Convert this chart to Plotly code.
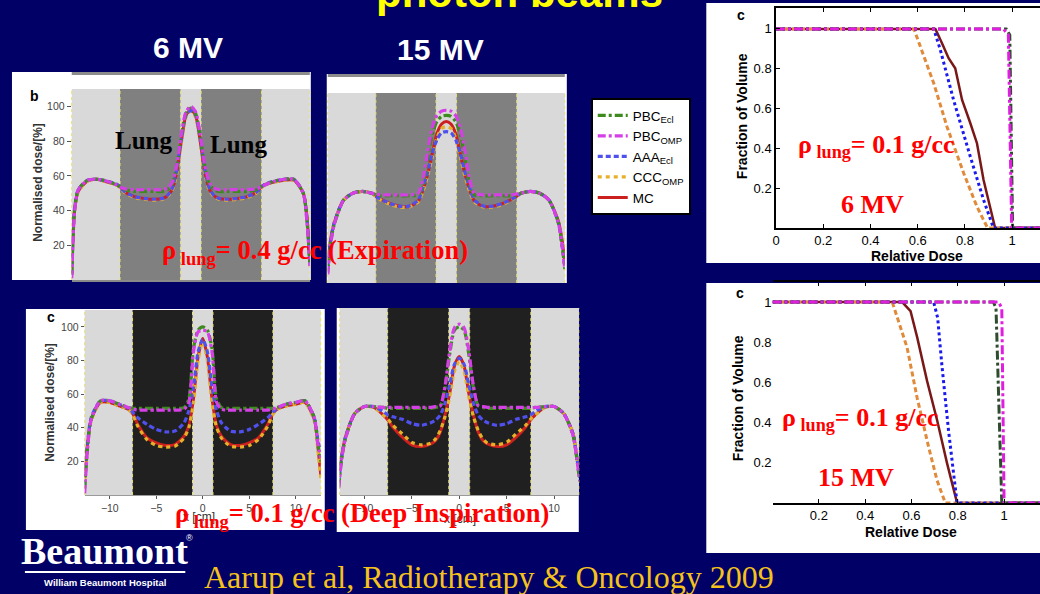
import plotly.graph_objects as go

W, H = 1040, 594
BG = "#000066"

# ---------------- data ----------------
X_PROF = [-12.7, -12.4, -12, -11, -10, -9, -8, -7.5, -7, -6, -5, -4, -3, -2.5, -2, -1.5, -1, -0.5, 0,
          0.5, 1, 1.5, 2, 2.5, 3, 4, 5, 6, 7, 7.5, 8, 9, 10, 11, 12, 12.4, 12.7]

# 6 MV, rho_lung = 0.4 g/cc
MC_6_04 = [4, 40, 51, 57, 58, 56.5, 55, 53.5, 50.5, 48, 47, 46.5, 47, 48.5, 52, 62, 80, 95, 98, 95, 80, 62, 52, 48.5, 47, 46.5, 47, 48, 50.5, 53.5, 55, 56.5, 57.5, 57.5, 50, 36, 11]
CCC_6_04 = [3, 40, 51, 57, 58, 56.5, 55, 53, 50, 47.5, 46.5, 46, 46.5, 48, 51.5, 61, 79, 94, 97.5, 94, 79, 61, 51.5, 48, 46.5, 46, 46.5, 47.5, 50, 53, 55, 56.5, 57.5, 57.5, 50, 35, 10]
AAA_6_04 = [3, 41, 52, 57.5, 58, 57, 55.5, 53.5, 50.5, 48, 47, 46.5, 47, 48.5, 52.5, 63, 81, 95, 97.5, 95, 81, 63, 52.5, 48.5, 47, 46.5, 47, 48, 50.5, 53.5, 55.5, 57, 58, 58, 50, 35, 10]
PBCE_6_04 = [3, 40, 52, 57.5, 58, 57, 55, 53.5, 52, 51, 51, 51, 51, 52, 55, 65, 83, 96, 99, 96, 83, 65, 55, 52, 51, 51, 51, 51, 52, 53.5, 55, 57, 58, 58, 50, 34, 9]
PBCO_6_04 = [1, 39, 52, 57.5, 58, 57, 55, 53.5, 52.5, 52, 52, 52, 52, 53, 56, 66, 84, 97, 100, 97, 84, 66, 56, 53, 52, 52, 52, 52, 52.5, 53.5, 55, 57, 58, 58, 50, 33, 8]

# 15 MV, rho_lung = 0.4 g/cc
MC_15_04 = [13, 25, 35, 48, 52, 53, 52, 50, 48.4, 46, 44.5, 44.2, 47.5, 54, 63, 75, 86.5, 92, 93.5, 92, 86.5, 75, 63, 54, 47.5, 44.2, 44.5, 46, 48.4, 50, 52, 53, 52, 48, 36, 25, 13]
CCC_15_04 = [12, 25, 35, 48, 52, 53, 52, 50, 48, 45.5, 44, 44, 47, 53, 62, 73, 84, 89.5, 90.5, 89.5, 84, 73, 62, 53, 47, 44, 44, 45.5, 48, 50, 52, 53, 52, 48, 36, 24, 12]
AAA_15_04 = [10, 24, 35, 48, 52, 53, 52, 50, 48.5, 46, 44.5, 44.5, 48, 55, 64, 75, 83, 87, 87.6, 87, 83, 75, 64, 55, 48, 44.5, 44.5, 46, 48.5, 50, 52, 53, 52, 48, 35, 22, 10]
PBCE_15_04 = [6, 23, 34, 48, 52, 53, 52, 51, 50.5, 50.5, 50.5, 50.5, 51, 57, 72, 86, 93.5, 96.5, 97, 96.5, 93.5, 86, 72, 57, 51, 50.5, 50.5, 50.5, 50.5, 51, 52, 53, 52, 48, 35, 22, 8]
PBCO_15_04 = [5, 22, 34, 48, 52, 53, 52, 51.5, 51, 51, 51, 51, 52, 60, 76, 90, 97, 99.5, 100, 99.5, 97, 90, 76, 60, 52, 51, 51, 51, 51, 51.5, 52, 53, 52, 48, 35, 22, 8]

# 6 MV, rho_lung = 0.1 g/cc
MC_6_01 = [10, 30, 45, 55, 55, 53, 51, 48, 42, 34, 31, 29.5, 30, 32, 35, 41, 57, 82, 93, 82, 57, 41, 35, 32, 30, 29.5, 31, 34, 42, 48, 51, 53, 54, 55, 45, 28, 12]
CCC_6_01 = [8, 28, 44, 55, 55, 53, 51, 47.5, 41, 33, 29.5, 28.5, 29, 31, 34, 40, 55, 80, 91, 80, 55, 40, 34, 31, 29, 28.5, 29.5, 33, 41, 47.5, 51, 53, 54, 55, 44, 26, 10]
AAA_6_01 = [6, 30, 46, 56, 56, 54, 51.5, 49, 46, 42, 39, 37.5, 38, 40, 43, 50, 64, 85, 92.5, 85, 64, 50, 43, 40, 38, 37.5, 39, 42, 46, 49, 51.5, 54, 55, 56, 46, 32, 26]
PBCE_6_01 = [4, 28, 45, 56, 56, 54, 52, 51.5, 51.5, 51.5, 51.5, 51.5, 51.5, 51.5, 52, 57, 87, 98, 100, 98, 87, 57, 52, 51.5, 51.5, 51.5, 51.5, 51.5, 51.5, 51.5, 52, 54, 55, 56, 46, 30, 20]
PBCO_6_01 = [1, 27, 45, 56, 56, 54, 52, 51, 50.5, 50.5, 50.5, 50.5, 50.5, 50.5, 51, 55, 85, 97, 98, 97, 85, 55, 51, 50.5, 50.5, 50.5, 50.5, 50.5, 50.5, 51, 52, 54, 55, 56, 46, 30, 22]

# 15 MV, rho_lung = 0.1 g/cc
MC_15_01 = [14, 23, 34, 48, 52, 51.5, 47, 44, 40, 34, 29.5, 28.5, 30, 32, 37, 47, 60, 76, 81.5, 76, 60, 47, 37, 32, 30, 28.5, 29.5, 34, 40, 44, 47, 51.5, 52, 48, 36, 22, 14]
CCC_15_01 = [12, 22, 34, 48, 52, 51.5, 47, 44.5, 41, 36, 31, 29.5, 30.5, 33, 38, 46, 58, 73, 78.5, 73, 58, 46, 38, 33, 30.5, 29.5, 31, 36, 41, 44.5, 47, 51.5, 52, 48, 36, 22, 12]
AAA_15_01 = [8, 22, 34, 48, 52, 52, 49, 47, 46, 44.5, 42, 41, 42.5, 44, 47, 54, 65, 77, 80.5, 77, 65, 54, 47, 44, 42.5, 41, 42, 44.5, 46, 47, 49, 52, 52, 48, 36, 22, 10]
PBCE_15_01 = [5, 21, 33, 48, 52, 52, 51.5, 51, 51, 51, 51, 51, 51, 51.5, 52.5, 63, 83, 97, 99, 97, 83, 63, 52.5, 51.5, 51, 51, 51, 51, 51, 51, 51.5, 52, 52, 48, 35, 21, 8]
PBCO_15_01 = [4, 21, 33, 48, 52, 52, 51.5, 51.5, 51.5, 51.6, 51.6, 51.6, 51.6, 52, 52.5, 64, 85, 98.5, 100.5, 98.5, 85, 64, 52.5, 52, 51.6, 51.6, 51.6, 51.6, 51.5, 51.5, 51.5, 52, 52, 48, 35, 21, 8]

# DVH, 6 MV
D6_MC = [0, 0.675, 0.703, 0.731, 0.759, 0.788, 0.823, 0.851, 0.879, 0.907, 0.928, 1.2]
V6_MC = [1, 1, 0.928, 0.853, 0.802, 0.643, 0.526, 0.426, 0.241, 0.107, 0, 0]
D6_AAA = [0, 0.668, 0.696, 0.752, 0.823, 0.879, 0.921, 1.2]
V6_AAA = [1, 1, 0.894, 0.643, 0.358, 0.141, 0, 0]
D6_CCC = [0, 0.584, 0.668, 0.724, 0.795, 0.851, 0.896, 1.2]
V6_CCC = [1, 1, 0.727, 0.509, 0.275, 0.107, 0, 0]
D6_PBCE = [0, 0.975, 0.99, 1.002, 1.2]
V6_PBCE = [1, 1, 0.97, 0, 0]
D6_PBCO = [0, 0.963, 0.984, 0.998, 1.2]
V6_PBCO = [1, 1, 0.97, 0, 0]

# DVH, 15 MV
D15_MC = [0, 0.56, 0.596, 0.625, 0.667, 0.711, 0.754, 0.797, 1.2]
V15_MC = [1, 1, 0.955, 0.823, 0.609, 0.411, 0.196, 0, 0]
D15_AAA = [0, 0.696, 0.713, 0.731, 0.76, 0.797, 1.2]
V15_AAA = [1, 1, 0.922, 0.69, 0.36, 0, 0]
D15_CCC = [0, 0.517, 0.581, 0.624, 0.674, 0.710, 0.746, 1.2]
V15_CCC = [1, 1, 0.774, 0.526, 0.279, 0.114, 0, 0]
D15_PBCE = [0, 0.954, 0.965, 0.99, 1.2]
V15_PBCE = [1, 1, 0.97, 0, 0]
D15_PBCO = [0, 0.976, 0.99, 1.0, 1.2]
V15_PBCO = [1, 1, 0.97, 0, 0]

PROF_TICKS = [20, 40, 60, 80, 100]
X_TICKS = [-10, -5, 0, 5, 10]
DVH_TICKS = [0.2, 0.4, 0.6, 0.8, 1]
DVH_TICKTEXT = ["0.2", "0.4", "0.6", "0.8", "1"]

NAMES = ["PBC<sub>Ecl</sub>", "PBC<sub>OMP</sub>", "AAA<sub>Ecl</sub>", "CCC<sub>OMP</sub>", "MC"]

# ---------------- helpers ----------------
def fx(px):
    return px / W


def fy(py):
    return 1 - py / H


SANS = "Liberation Sans, Arial, sans-serif"
SERIF = "Liberation Serif, Times New Roman, serif"

fig = go.Figure()

PROF_COL = ["#3d8a1e", "#d63ee8", "#5050ee", "#e6b128", "#cc2020"]
PROF_DASH = ["8px,3px,3px,3px", "8px,3px,3px,3px", "5px,3px", "4px,4px", "solid"]
DVH_COL = ["#2e4d2e", "#e01ee0", "#1a1aee", "#e08a3a", "#7a1818"]
DVH_DASH = ["dashdot", "dashdot", "3px,3px", "5px,3px", "solid"]

panels = [
    ("x", "y", [PBCE_6_04, PBCO_6_04, AAA_6_04, CCC_6_04, MC_6_04]),
    ("x2", "y2", [PBCE_15_04, PBCO_15_04, AAA_15_04, CCC_15_04, MC_15_04]),
    ("x3", "y3", [PBCE_6_01, PBCO_6_01, AAA_6_01, CCC_6_01, MC_6_01]),
    ("x4", "y4", [PBCE_15_01, PBCO_15_01, AAA_15_01, CCC_15_01, MC_15_01]),
]
draw_order = [4, 3, 2, 0, 1]
for pi, (xa, ya, series) in enumerate(panels):
    for k in draw_order:
        fig.add_trace(go.Scatter(
            x=X_PROF, y=series[k], xaxis=xa, yaxis=ya, mode="lines",
            line=dict(color=PROF_COL[k], dash=PROF_DASH[k], width=3.2 if k < 4 else 3,
                      shape="spline", smoothing=0.7),
            name=NAMES[k], legendrank=k + 1, showlegend=(pi == 0), hoverinfo="skip"))

dvhs = [
    ("x5", "y5", [(D6_PBCE, V6_PBCE), (D6_PBCO, V6_PBCO), (D6_AAA, V6_AAA), (D6_CCC, V6_CCC), (D6_MC, V6_MC)]),
    ("x6", "y6", [(D15_PBCE, V15_PBCE), (D15_PBCO, V15_PBCO), (D15_AAA, V15_AAA), (D15_CCC, V15_CCC), (D15_MC, V15_MC)]),
]
for xa, ya, series in dvhs:
    for k in [4, 3, 2, 0, 1]:
        d, v = series[k]
        fig.add_trace(go.Scatter(
            x=d, y=v, xaxis=xa, yaxis=ya, mode="lines",
            line=dict(color=DVH_COL[k], dash=DVH_DASH[k], width=2.5 if k == 4 else 3),
            name=NAMES[k], showlegend=False, hoverinfo="skip"))

# ---------------- axes ----------------
tickfont_prof = dict(family=SANS, size=10.5, color="#444444")
hidden = dict(showticklabels=False, showgrid=False, zeroline=False, ticks="", showline=False)

layout_axes = {}
# panel 1 (6 MV, b)
layout_axes["xaxis"] = dict(domain=[fx(68), fx(307)], range=[-12.7, 12.7], anchor="y",
                            showline=True, linecolor="#8a8a8a", linewidth=2, showgrid=False,
                            zeroline=False, showticklabels=False, ticks="")
layout_axes["yaxis"] = dict(domain=[fy(280), fy(89)], range=[0, 110], anchor="x",
                            tickvals=PROF_TICKS, ticks="outside", ticklen=4, tickcolor="#555555",
                            tickfont=tickfont_prof, showgrid=False, zeroline=False, showline=False)
# panel 2 (15 MV, b)
layout_axes["xaxis2"] = dict(domain=[fx(325), fx(563)], range=[-12.7, 12.7], anchor="y2", **hidden)
layout_axes["yaxis2"] = dict(domain=[fy(283), fy(93)], range=[0, 110], anchor="x2", **hidden)
# panel 3 (6 MV, c)
layout_axes["xaxis3"] = dict(domain=[fx(81), fx(318)], range=[-12.7, 12.7], anchor="y3",
                             tickvals=X_TICKS, ticks="outside", ticklen=3, tickcolor="#555555",
                             tickfont=tickfont_prof, showgrid=False, zeroline=False,
                             showline=True, linecolor="#9a9a9a", linewidth=1)
layout_axes["yaxis3"] = dict(domain=[fy(495), fy(310)], range=[0, 110], anchor="x3",
                             tickvals=PROF_TICKS, ticks="outside", ticklen=3, tickcolor="#555555",
                             tickfont=tickfont_prof, showgrid=False, zeroline=False, showline=False)
# panel 4 (15 MV, c)
layout_axes["xaxis4"] = dict(domain=[fx(337), fx(577)], range=[-12.6, 12.6], anchor="y4",
                             tickvals=X_TICKS, ticks="outside", ticklen=3, tickcolor="#555555",
                             tickfont=tickfont_prof, showgrid=False, zeroline=False,
                             showline=True, linecolor="#9a9a9a", linewidth=1)
layout_axes["yaxis4"] = dict(domain=[fy(495), fy(308)], range=[0, 110], anchor="x4", **hidden)

dvh_tickfont = dict(family=SANS, size=13, color="black")
# DVH 6 MV
layout_axes["xaxis5"] = dict(domain=[fx(775), 1.0], range=[0, 1.118], anchor="y5",
                             tickvals=[0] + DVH_TICKS, ticktext=["0"] + DVH_TICKTEXT,
                             ticks="inside", ticklen=4, tickcolor="black", tickfont=dvh_tickfont,
                             showline=True, linecolor="black", linewidth=1.5, mirror="ticks",
                             showgrid=False, zeroline=False)
layout_axes["yaxis5"] = dict(domain=[fy(228), fy(8)], range=[0, 1.105], anchor="x5",
                             tickvals=DVH_TICKS, ticktext=DVH_TICKTEXT,
                             ticks="inside", ticklen=4, tickcolor="black", tickfont=dvh_tickfont,
                             showline=True, linecolor="black", linewidth=1.5,
                             showgrid=False, zeroline=False)
# DVH 15 MV
layout_axes["xaxis6"] = dict(domain=[fx(771.5), 1.0], range=[0, 1.155], anchor="y6",
                             tickvals=DVH_TICKS, ticktext=DVH_TICKTEXT,
                             ticks="inside", ticklen=4, tickcolor="black", tickfont=dvh_tickfont,
                             showline=True, linecolor="black", linewidth=1.5, mirror="ticks",
                             showgrid=False, zeroline=False)
layout_axes["yaxis6"] = dict(domain=[fy(503), fy(282)], range=[0, 1.1], anchor="x6",
                             tickvals=DVH_TICKS, ticktext=DVH_TICKTEXT,
                             ticks="", tickfont=dvh_tickfont, showline=False,
                             showgrid=False, zeroline=False)

# ---------------- shapes ----------------
shapes = []
# white panel boxes
for (x0, y0, x1, y1) in [(8, 72, 308, 280), (324, 74, 565, 283), (22, 309, 322, 530),
                         (334, 308, 577, 532), (705, 3, 1040, 263), (705, 283, 1040, 553)]:
    shapes.append(dict(type="rect", xref="paper", yref="paper", x0=fx(x0), x1=fx(x1),
                       y0=fy(y1), y1=fy(y0), fillcolor="white", line=dict(width=0), layer="below"))
# gray remnants of upper axes
for (x0, x1, y) in [(68, 307, 73.5), (325, 563, 75.5)]:
    shapes.append(dict(type="line", xref="paper", yref="paper", x0=fx(x0), x1=fx(x1),
                       y0=fy(y), y1=fy(y), line=dict(color="#8c8c8c", width=3), layer="below"))

LUNG_EDGES = [(-7.55, -1.1), (1.1, 7.55)]
for pi, (xa, ya, _) in enumerate(panels):
    dark = "#808080" if pi < 2 else "#202020"
    shapes.append(dict(type="rect", xref=f"{xa} domain", yref=f"{ya} domain", x0=0, x1=1, y0=0, y1=1,
                       fillcolor="#d9d9d9", line=dict(width=0), layer="below"))
    for (a, b) in LUNG_EDGES:
        shapes.append(dict(type="rect", xref=xa, yref=f"{ya} domain", x0=a, x1=b, y0=0, y1=1,
                           fillcolor=dark, line=dict(width=0), layer="below"))
    for xv in [-7.55, -1.1, 1.1, 7.55]:
        shapes.append(dict(type="line", xref=xa, yref=f"{ya} domain", x0=xv, x1=xv, y0=0, y1=1,
                           line=dict(color="#e8e070", width=1, dash="dot"), layer="below"))
    for xv in [0, 1]:
        shapes.append(dict(type="line", xref=f"{xa} domain", yref=f"{ya} domain", x0=xv, x1=xv, y0=0, y1=1,
                           line=dict(color="#e8e070", width=1, dash="dot"), layer="below"))

# Beaumont underline
shapes.append(dict(type="line", xref="paper", yref="paper", x0=fx(21), x1=fx(182), y0=fy(572), y1=fy(572),
                   line=dict(color="white", width=2)))

# ---------------- annotations ----------------
ann = []


def A(text, x, y, size, color, family=SANS, xanchor="center", yanchor="middle", angle=0):
    ann.append(dict(text=text, x=fx(x), y=fy(y), xref="paper", yref="paper", showarrow=False,
                    xanchor=xanchor, yanchor=yanchor, textangle=angle,
                    font=dict(family=family, size=size, color=color)))


A("<b>photon beams</b>", 517, -8, 42, "#ffff00", yanchor="middle")
A("<b>6 MV</b>", 185, 48, 30, "white")
A("<b>15 MV</b>", 438, 49, 30, "white")

A("<b>b</b>", 31, 96, 14, "black")
A("<b>Normalised dose/[%]</b>", 34, 182, 12, "#333333", angle=-90)
A("<b>c</b>", 47, 317, 14, "black")
A("<b>Normalised dose/[%]</b>", 46, 402, 12, "#333333", angle=-90)
A("x [cm]", 196, 517, 12, "#333333")
A("x [cm]", 458, 519, 12, "#333333")

A("<b>Lung</b>", 140, 141, 25, "black", family=SERIF)
A("<b>Lung</b>", 235, 144, 25, "black", family=SERIF)

A("<b>ρ<sub> lung</sub>= 0.4 g/cc (Expiration)</b>", 157, 252, 26.5, "#ff0000", family=SERIF, xanchor="left")
A("<b>ρ<sub> lung</sub>= 0.1 g/cc (Deep Inspiration)</b>", 170, 515, 26.5, "#ff0000", family=SERIF, xanchor="left")

# DVH labels
A("<b>c</b>", 740, 15, 14, "black")
A("<b>Fraction of Volume</b>", 741, 116, 14, "black", angle=-90)
A("<b>Relative Dose</b>", 917, 256, 14, "black")
A("<b>c</b>", 739, 293, 14, "black")
A("<b>Fraction of Volume</b>", 737, 398, 14, "black", angle=-90)
A("<b>Relative Dose</b>", 910, 532, 14, "black")

A("<b>ρ<sub> lung</sub>= 0.1 g/cc</b>", 795, 146, 26, "#ff0000", family=SERIF, xanchor="left")
A("<b>6 MV</b>", 872, 204, 26, "#ff0000", family=SERIF)
A("<b>ρ<sub> lung</sub>= 0.1 g/cc</b>", 779, 419, 26, "#ff0000", family=SERIF, xanchor="left")
A("<b>15 MV</b>", 855, 477, 26, "#ff0000", family=SERIF)

# Footer
A("<b>Beaumont</b>", 101, 551, 38, "white", family=SERIF)
A("®", 186, 538, 9, "white")
A("<b>William Beaumont Hospital</b>", 101, 582, 9.5, "white")
A("Aarup et al, Radiotherapy &amp; Oncology 2009", 199, 577, 32, "#f5c21b", family=SERIF, xanchor="left")

fig.update_layout(
    width=W, height=H, autosize=False,
    margin=dict(l=0, r=0, t=0, b=0),
    paper_bgcolor=BG, plot_bgcolor="rgba(0,0,0,0)",
    shapes=shapes, annotations=ann,
    legend=dict(x=fx(589), y=fy(98), xanchor="left", yanchor="top",
                bgcolor="white", bordercolor="black", borderwidth=2,
                font=dict(family=SANS, size=13.5, color="black"),
                itemwidth=30, tracegroupgap=0),
    **layout_axes,
)

fig.write_html("out.html")
